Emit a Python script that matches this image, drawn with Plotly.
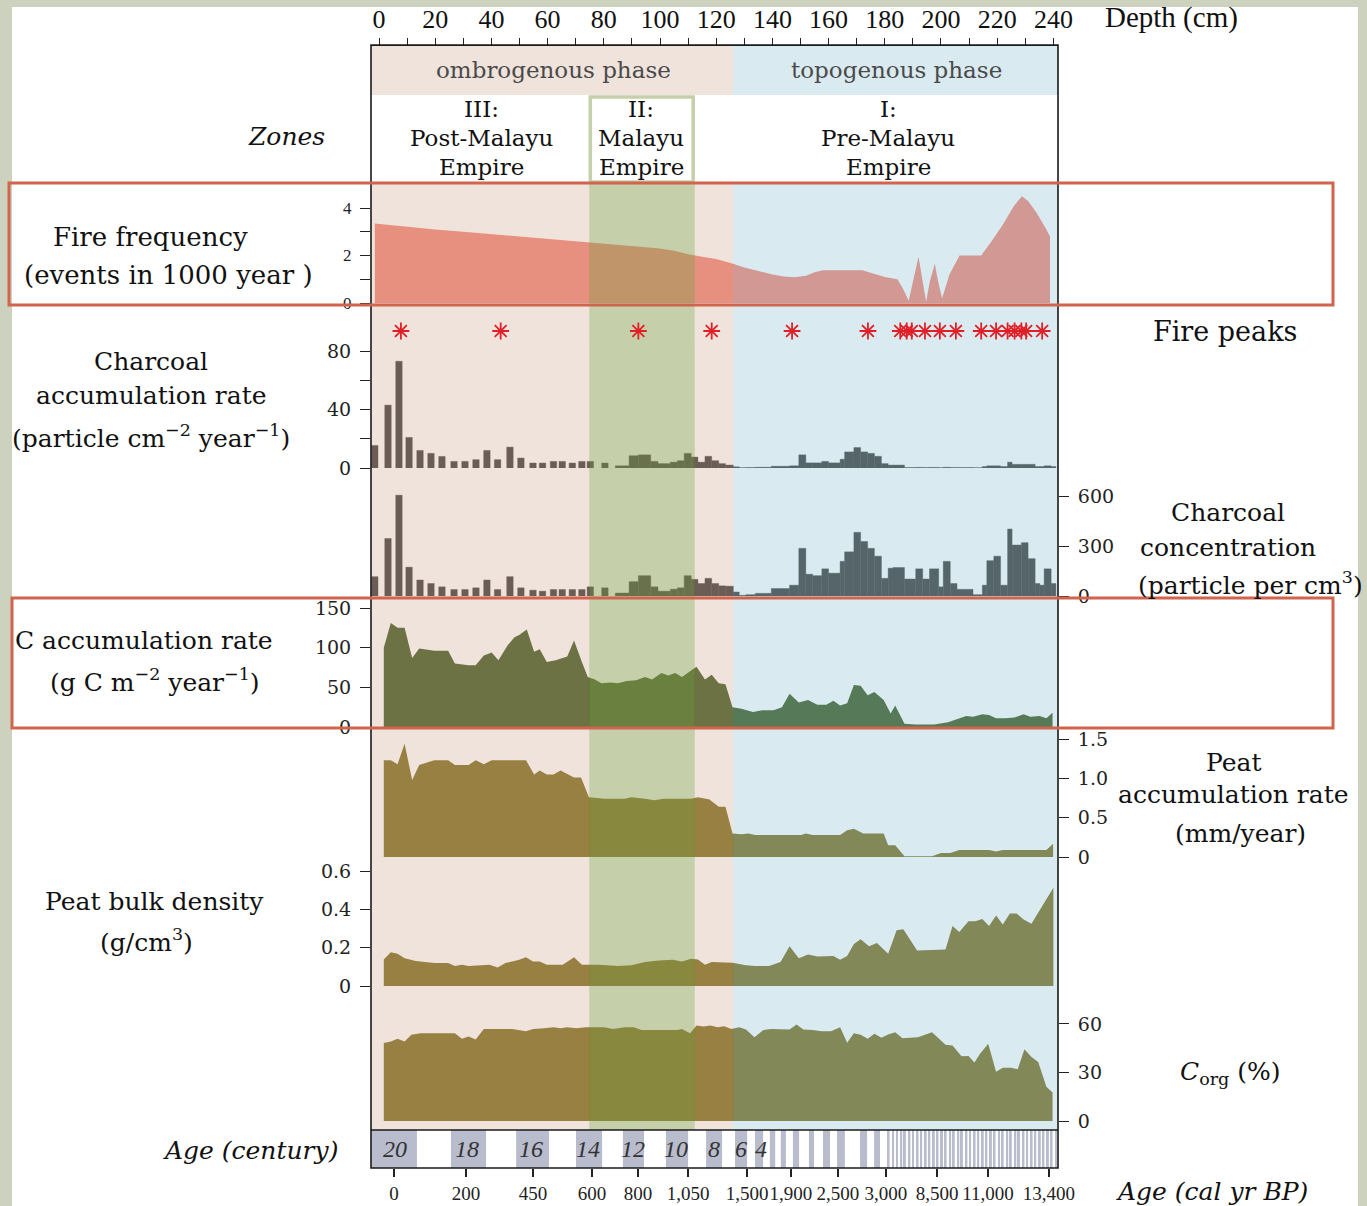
import plotly.graph_objects as go

# ---------------- data ----------------
fire_depth = [-1.5, 10, 20, 30, 40, 50, 60, 70, 75, 80, 90, 100, 105, 110, 115, 120, 126, 130, 135, 140,
              144, 148, 152, 155, 158, 165, 172, 175.5, 180, 184.5, 186.5, 188.5, 190, 192, 193.5, 194.7,
              196, 197.8, 199, 200.4, 203, 206.6, 210, 214.3, 218, 222, 226, 228.8, 231, 234, 237, 238.8]
fire_freq = [3.35, 3.2, 3.1, 3.0, 2.9, 2.8, 2.7, 2.6, 2.55, 2.5, 2.4, 2.3, 2.2, 2.05, 1.95, 1.85, 1.65, 1.5,
             1.35, 1.2, 1.12, 1.08, 1.15, 1.3, 1.38, 1.38, 1.38, 1.25, 1.1, 1.0, 0.6, 0.1, 0.9, 1.95, 0.9,
             0.05, 0.9, 1.65, 0.9, 0.2, 1.2, 2.0, 2.0, 2.0, 2.6, 3.3, 4.1, 4.5, 4.3, 3.8, 3.2, 2.8]

peak_depth = [7.8, 43.3, 92.3, 118.4, 147.0, 174.0, 185.5, 187.8, 189.6, 194.3, 199.6, 205.3,
              214.3, 219.6, 223.7, 226.2, 228.6, 230.3, 236.0]

# charcoal: separate samples in the upper part ...
char_disc_depth = [-1.5, 3.2, 7.1, 10.7, 14.6, 18.5, 22.4, 26.7, 30.6, 34.5, 38.4, 42.2, 46.6, 50.5,
                   54.8, 58.2, 62.1, 65.2, 68.8, 72.2, 75.2, 80.4]
char_disc_rate = [15.4, 43, 73, 20.9, 12, 10, 7.9, 4.5, 4.5, 5.7, 12, 5.7, 14.3, 6.8, 3.4, 3.4, 4.5, 4.5,
                  3.4, 4.5, 4.5, 3.4]
char_disc_conc = [116, 345, 605, 173, 96, 75, 55, 39, 39, 49, 96, 39, 116, 49, 35, 29, 39, 39, 39, 39, 55, 49]
# ... and contiguous slices below
char_step_edges = [84.1, 89.0, 92.3, 96.7, 99.3, 103.7, 106.2, 108.6, 111.1, 113.5, 116.0, 118.4, 120.9,
                   123.3, 126.1, 128.2, 130.6, 133.9, 136.4, 139.6, 146.1, 149.4, 151.9, 154.3, 157.6,
                   160.0, 164.1, 165.7, 169.0, 171.4, 173.9, 176.3, 178.8, 181.2, 182.9, 187.0, 191.0,
                   193.5, 195.9, 199.2, 200.8, 203.3, 205.7, 211.4, 214.7, 216.3, 218.8, 221.2, 223.7,
                   225.3, 228.6, 231.0, 233.5, 235.2, 236.7, 239.2, 240.9]
char_step_conc = [18, 86, 122, 55, 29, 41, 49, 122, 100, 75, 106, 75, 61, 59, 24, 4, 8, 16, 16, 45, 65,
                  286, 131, 122, 163, 137, 208, 265, 382, 327, 286, 239, 106, 167, 171, 102, 163, 102,
                  163, 55, 208, 75, 40, 8, 65, 212, 239, 65, 402, 306, 320, 224, 75, 65, 163, 75]
char_step_rate = [1.5, 8.4, 9, 4.5, 3, 4, 5, 10, 7.5, 4, 8, 5, 3, 2, 0.8, 0.2, 0.3, 0.5, 0.5, 1.2, 1.5,
                  9, 3.5, 3.5, 4.5, 3.5, 6, 11, 14, 11, 10, 8, 3, 2, 2, 0.3, 0.4, 0.3, 0.4, 0.2, 0.5,
                  0.3, 0.3, 0.2, 1.0, 1.5, 1.5, 1.0, 4, 2.5, 2.5, 2.5, 1, 1, 1.5, 1]

cacc_depth = [1.7, 4.2, 6.6, 9.1, 11.8, 14.3, 19.7, 24.6, 27.0, 31.9, 34.4, 37.3, 40.1, 42.5, 45.8, 48.2,
              49.9, 52.6, 55.2, 57.2, 59.7, 62.9, 67.0, 69.4, 72.2, 74.3, 76.8, 79.2, 82.5, 85.0, 88.2,
              91.5, 94.7, 97.2, 100.5, 102.9, 105.4, 107.8, 110.2, 113.0, 116.0, 118.4, 120.9, 123.3,
              125.8, 129.0, 133.1, 136.4, 140.4, 143.4, 146.1, 149.4, 152.7, 156.0, 159.2, 161.7, 164.1,
              166.6, 169.0, 171.4, 173.9, 176.3, 179.6, 182.1, 183.7, 187.0, 191.0, 197.6, 202.5, 205.7,
              209.0, 211.4, 214.7, 217.1, 219.6, 222.9, 226.1, 229.4, 231.8, 235.1, 237.5, 239.7]
cacc = [100, 131, 125, 125, 87, 99, 96, 96, 80, 78, 78, 90, 94, 84, 103, 113, 116, 123, 95, 98, 82, 84,
        89, 109, 82, 63, 60, 55, 56, 55, 58, 59, 63, 60, 68, 65, 68, 63, 69, 76, 60, 66, 55, 54, 25, 23,
        19, 21, 21, 25, 42, 31, 34, 28, 28, 33, 27, 30, 53, 52, 40, 44, 34, 17, 27, 4, 3, 3, 6, 10, 14,
        13, 16, 15, 11, 11, 12, 16, 13, 14, 11, 18]

peat_depth = [1.7, 4.2, 6.6, 9.1, 11.8, 14.3, 19.7, 24.6, 27.0, 31.9, 34.4, 37.3, 40.1, 52.3, 55.2, 57.2,
              59.7, 62.1, 64.6, 67.0, 69.4, 71.9, 74.7, 77.6, 80.1, 87.4, 89.8, 94.7, 98.0, 101.3, 111.1,
              113.5, 117.6, 120.9, 123.3, 125.8, 129.0, 131.5, 133.9, 150.2, 151.9, 154.3, 164.1, 166.6,
              169.0, 172.3, 179.6, 181.2, 183.7, 187.0, 196.8, 200.0, 203.3, 206.5, 217.1, 219.6, 222.0,
              237.5, 239.9]
peat_rate = [1.23, 1.23, 1.18, 1.44, 0.98, 1.17, 1.23, 1.23, 1.17, 1.17, 1.23, 1.18, 1.23, 1.23, 1.05,
             1.10, 1.05, 1.05, 1.10, 1.05, 1.01, 1.01, 0.76, 0.75, 0.74, 0.74, 0.76, 0.74, 0.72, 0.74,
             0.74, 0.76, 0.73, 0.64, 0.64, 0.30, 0.29, 0.30, 0.28, 0.28, 0.30, 0.28, 0.28, 0.34, 0.36,
             0.30, 0.30, 0.15, 0.15, 0.01, 0.01, 0.05, 0.05, 0.09, 0.09, 0.07, 0.09, 0.09, 0.17]

bd_depth = [1.7, 4.2, 6.6, 9.1, 13.1, 19.7, 24.6, 27.0, 29.5, 31.9, 39.3, 42.2, 45.0, 49.9, 52.3, 54.8,
            57.2, 59.7, 65.4, 69.4, 72.2, 78.4, 85.0, 89.8, 94.7, 99.6, 104.5, 107.8, 111.1, 113.5, 116.0,
            118.4, 125.8, 130.6, 133.9, 138.8, 142.9, 146.1, 149.4, 152.7, 156.0, 161.7, 164.1, 166.6,
            169.0, 171.4, 174.4, 177.2, 181.2, 184.2, 186.6, 191.5, 201.6, 204.1, 206.5, 209.8, 212.2,
            214.7, 217.1, 219.6, 222.0, 224.5, 226.9, 229.4, 232.2, 240.0]
bulk_density = [0.138, 0.176, 0.168, 0.145, 0.13, 0.12, 0.12, 0.104, 0.111, 0.104, 0.111, 0.096, 0.12,
                0.137, 0.150, 0.128, 0.128, 0.111, 0.111, 0.150, 0.111, 0.111, 0.104, 0.108, 0.125,
                0.133, 0.137, 0.128, 0.142, 0.138, 0.111, 0.125, 0.121, 0.108, 0.104, 0.104, 0.125,
                0.207, 0.145, 0.164, 0.154, 0.156, 0.137, 0.156, 0.219, 0.244, 0.207, 0.224, 0.168,
                0.291, 0.296, 0.185, 0.190, 0.313, 0.282, 0.338, 0.338, 0.350, 0.313, 0.368, 0.321,
                0.378, 0.378, 0.347, 0.325, 0.513]

corg_depth = [1.7, 4.2, 6.6, 9.1, 11.5, 14.8, 27.0, 29.5, 31.9, 34.4, 37.3, 47.4, 52.3, 54.8, 58.8, 62.1,
              64.6, 67.0, 70.3, 73.5, 80.1, 83.3, 87.4, 90.7, 93.4, 106.2, 107.8, 110.7, 113.0, 115.6,
              117.9, 120.5, 122.8, 125.4, 128.2, 130.6, 133.6, 136.8, 139.6, 146.1, 148.6, 151.0, 154.3,
              157.6, 160.8, 164.1, 166.6, 169.0, 171.4, 173.9, 176.3, 178.8, 181.2, 183.7, 186.3, 191.8,
              196.8, 201.6, 204.1, 207.3, 209.8, 211.9, 213.9, 216.8, 219.6, 222.0, 225.0, 227.3, 229.7,
              232.2, 234.6, 237.5, 239.7]
corg = [48.2, 49.2, 50.8, 49.2, 53.3, 54.3, 54.3, 50.8, 52.2, 50.4, 56.9, 56.9, 55.5, 56.9, 57.3, 58.0,
        57.3, 58.0, 57.3, 58.0, 58.0, 56.9, 58.0, 58.0, 56.3, 56.3, 56.9, 54.3, 59.0, 58.4, 59.0, 58.0,
        58.6, 56.9, 58.0, 56.5, 51.8, 56.3, 56.9, 56.5, 59.6, 56.5, 56.3, 55.5, 55.5, 58.0, 48.4, 54.3,
        53.3, 50.8, 53.9, 51.4, 53.5, 54.9, 51.2, 51.8, 54.9, 47.1, 46.7, 40.0, 40.2, 36.1, 41.6, 47.8,
        30.4, 32.9, 32.9, 32.0, 44.3, 39.6, 36.5, 21.2, 17.6]

# age (century) bar: grey blocks (depth from / to)
age_gray_start = [-2.85, 25.6, 48.8, 70.1, 86.8, 102.1, 116.4, 126.7, 133.8, 139.1, 143.0, 147.3, 153.0,
                  158.0, 163.0, 171.2, 176.2, 181.0, 182.6, 184.0, 185.5, 186.8, 188.4, 189.7, 191.3,
                  192.6, 194.2, 195.5, 197.1, 198.4, 200.0, 201.3, 202.9, 204.2, 205.8, 207.1, 208.7,
                  210.0, 211.6, 212.9, 214.5, 215.8, 217.4, 218.7, 220.3, 221.6, 223.2, 224.5, 226.1,
                  227.4, 229.0, 230.3, 231.9, 233.2, 234.8, 236.1, 237.7, 239.0, 240.6]
age_gray_end = [13.5, 38.1, 60.5, 79.4, 94.3, 110.0, 122.1, 131.0, 136.7, 141.0, 144.8, 149.5, 154.8,
                160.5, 165.8, 173.7, 178.3, 181.7, 183.3, 184.7, 186.2, 187.5, 189.1, 190.4, 192.0,
                193.3, 194.9, 196.2, 197.8, 199.1, 200.7, 202.0, 203.6, 204.9, 206.5, 207.8, 209.4,
                210.7, 212.3, 213.6, 215.2, 216.5, 218.1, 219.4, 221.0, 222.3, 223.9, 225.2, 226.8,
                228.1, 229.7, 231.0, 232.6, 233.9, 235.5, 236.8, 238.4, 239.7, 241.3]
century_label = ['20', '18', '16', '14', '12', '10', '8', '6', '4']
century_depth = [5.7, 31.3, 54.1, 74.4, 90.4, 105.7, 119.2, 128.8, 135.9]

age_tick_depth = [5.34, 30.96, 54.8, 75.8, 92.2, 110.0, 131.0, 146.6, 163.3, 180.4, 198.6, 216.7, 238.4]
age_tick_label = ['0', '200', '450', '600', '800', '1,050', '1,500', '1,900', '2,500', '3,000',
                  '8,500', '11,000', '13,400']

depth_tick = [0, 20, 40, 60, 80, 100, 120, 140, 160, 180, 200, 220, 240]

zone_bounds = [74.8, 112.4, 126.0]   # III|II, II|(III), ombrogenous|topogenous

# ---------------- geometry / style ----------------
W, H = 1367, 1206
PL, PR, PT, PB = 371, 1058, 45, 1168
XR = [-2.85, 241.64]


def pxx(x):
    return (x - PL) / (PR - PL)


def pyy(y):
    return (PB - y) / (PB - PT)


SERIF = 'DejaVu Serif'
TIMES = 'Liberation Serif'
TICKFONT = dict(family=SERIF, size=19, color='#222')

PINK_OPQ, GREEN_OPQ, BLUE_OPQ = 'rgb(239,227,220)', 'rgb(197,207,170)', 'rgb(217,235,240)'
PINK_OVL, GREEN_OVL, BLUE_OVL = 'rgba(215,185,167,0.4)', 'rgba(155,172,109,0.58)', 'rgba(160,205,217,0.4)'
FIRE = 'rgb(243,117,100)'
CHAR = 'rgb(35,33,30)'
CACC = 'rgb(37,67,0)'
PEAT = 'rgb(110,90,0)'
AGEGRAY = 'rgb(184,188,205)'

fig = go.Figure()

# fire frequency
fig.add_trace(go.Scatter(x=fire_depth, y=fire_freq, mode='lines', line=dict(width=0, color=FIRE),
                         fill='tozeroy', fillcolor=FIRE, xaxis='x', yaxis='y', hoverinfo='skip'))
# fire peaks
fig.add_trace(go.Scatter(x=peak_depth, y=[1] * len(peak_depth), mode='markers',
                         marker=dict(symbol='asterisk-open', size=14, color='#e21f26',
                                     line=dict(color='#e21f26', width=1.8)),
                         xaxis='x', yaxis='y2', hoverinfo='skip'))

step_center = [(a + b) / 2 for a, b in zip(char_step_edges[:-1], char_step_edges[1:])]
step_width = [b - a for a, b in zip(char_step_edges[:-1], char_step_edges[1:])]
bar_x = char_disc_depth + step_center
bar_w = [2.3] * len(char_disc_depth) + step_width

fig.add_trace(go.Bar(x=bar_x, y=char_disc_rate + char_step_rate, width=bar_w,
                     marker=dict(color=CHAR, line=dict(width=0.4, color=CHAR)),
                     xaxis='x', yaxis='y3', hoverinfo='skip'))
fig.add_trace(go.Bar(x=bar_x, y=char_disc_conc + char_step_conc, width=bar_w,
                     marker=dict(color=CHAR, line=dict(width=0.4, color=CHAR)),
                     xaxis='x', yaxis='y4', hoverinfo='skip'))


def area(xs, ys, color, yax):
    fig.add_trace(go.Scatter(x=xs, y=ys, mode='lines', line=dict(width=0, color=color),
                             fill='tozeroy', fillcolor=color, xaxis='x', yaxis=yax, hoverinfo='skip'))


area(cacc_depth, cacc, CACC, 'y5')
area(peat_depth, peat_rate, PEAT, 'y6')
area(bd_depth, bulk_density, PEAT, 'y7')
area(corg_depth, corg, PEAT, 'y8')

# age (century) bar, on the bottom (age) axis
fig.add_trace(go.Bar(x=[(a + b) / 2 for a, b in zip(age_gray_start, age_gray_end)],
                     y=[1] * len(age_gray_start),
                     width=[b - a for a, b in zip(age_gray_start, age_gray_end)],
                     marker=dict(color=AGEGRAY, line=dict(width=0)),
                     xaxis='x2', yaxis='y9', hoverinfo='skip'))


def yax(top, bottom, rng, side='left', tickvals=None, font=None, labels=None, minor=None):
    d = dict(domain=[pyy(bottom), pyy(top)], range=rng, anchor='x', side=side, showgrid=False,
             zeroline=False, showline=False, fixedrange=True, automargin=False)
    if tickvals is None:
        d.update(visible=False)
    else:
        d.update(tickmode='array', tickvals=tickvals, ticktext=labels, ticks='outside', ticklen=10,
                 tickwidth=1.3, tickcolor='#222', tickfont=font or TICKFONT, ticklabelstandoff=5)
        if minor is not None:
            d['minor'] = dict(dtick=minor, tick0=0, ticks='outside', ticklen=10, tickwidth=1.3,
                              tickcolor='#222', showgrid=False)
    return d


layout_axes = dict(
    xaxis=dict(domain=[0, 1], range=XR, anchor='free', position=1, side='top', tickmode='array',
               tickvals=depth_tick, ticktext=[str(v) for v in depth_tick], ticks='outside', ticklen=7,
               tickwidth=1.3, tickcolor='#222', tickfont=dict(family=TIMES, size=26, color='#111'),
               minor=dict(dtick=10, tick0=0, ticks='outside', ticklen=7, tickwidth=1.3, tickcolor='#222',
                          showgrid=False),
               showline=True, linecolor='#222', linewidth=1.2, showgrid=False, zeroline=False,
               fixedrange=True, automargin=False, tickangle=0),
    xaxis2=dict(overlaying='x', anchor='free', position=0, side='bottom', range=XR, tickmode='array',
                tickvals=age_tick_depth, ticktext=age_tick_label, ticks='outside', ticklen=8,
                tickwidth=1.5, tickcolor='#222', tickfont=dict(family=TIMES, size=19, color='#222'),
                ticklabelstandoff=0,
                showgrid=False, zeroline=False, showline=False, fixedrange=True, automargin=False,
                tickangle=0),
    yaxis=yax(185, 303, [0, 4.97], 'left', [0, 2, 4], dict(family=TIMES, size=17, color='#222'),
              ['0', '2', '4'], 1),
    yaxis2=yax(316, 346, [0, 2]),
    yaxis3=yax(348, 468, [0, 82.05], 'left', [0, 40, 80], None, ['0', '40', '80'], 20),
    yaxis4=yax(480, 596, [0, 696], 'right', [0, 300, 600], None, ['0', '300', '600']),
    yaxis5=yax(600, 727, [0, 160.1], 'left', [0, 50, 100, 150], None, ['0', '50', '100', '150']),
    yaxis6=yax(735, 857, [0, 1.551], 'right', [0, 0.5, 1, 1.5], None, ['0', '0.5', '1.0', '1.5']),
    yaxis7=yax(862, 986, [0, 0.647], 'left', [0, 0.2, 0.4, 0.6], None, ['0', '0.2', '0.4', '0.6']),
    yaxis8=yax(995, 1121, [0, 77.9], 'right', [0, 30, 60], None, ['0', '30', '60']),
    yaxis9=yax(1130, 1168, [0, 1]),
)

shapes = []
# white page inside the grey-green frame
shapes.append(dict(type='rect', xref='paper', yref='paper', x0=pxx(12), x1=pxx(1358), y0=pyy(1206),
                   y1=pyy(7), fillcolor='white', line=dict(width=0), layer='below'))
# phase header
shapes.append(dict(type='rect', xref='x', yref='paper', x0=XR[0], x1=zone_bounds[2], y0=pyy(95),
                   y1=pyy(45), fillcolor=PINK_OPQ, line=dict(width=0), layer='below'))
shapes.append(dict(type='rect', xref='x', yref='paper', x0=zone_bounds[2], x1=XR[1], y0=pyy(95),
                   y1=pyy(45), fillcolor=BLUE_OPQ, line=dict(width=0), layer='below'))

band_x = [(XR[0], zone_bounds[0]), (zone_bounds[0], zone_bounds[1]),
          (zone_bounds[1], zone_bounds[2]), (zone_bounds[2], XR[1])]
opq = [PINK_OPQ, GREEN_OPQ, PINK_OPQ, BLUE_OPQ]
ovl = [PINK_OVL, GREEN_OVL, PINK_OVL, BLUE_OVL]
for (a, b), c in zip(band_x, opq):          # fire-peak row: opaque, behind the asterisks
    shapes.append(dict(type='rect', xref='x', yref='paper', x0=a, x1=b, y0=pyy(346), y1=pyy(307),
                       fillcolor=c, line=dict(width=0), layer='below'))
for (a, b), c in zip(band_x, ovl):          # translucent zone bands over the curves
    for top, bot in [(183, 307), (346, 1130)]:
        shapes.append(dict(type='rect', xref='x', yref='paper', x0=a, x1=b, y0=pyy(bot), y1=pyy(top),
                           fillcolor=c, line=dict(width=0), layer='above'))
# zone II outline in the zone row
shapes.append(dict(type='rect', xref='x', yref='paper', x0=zone_bounds[0] + 0.4, x1=zone_bounds[1] - 0.6,
                   y0=pyy(182), y1=pyy(97), line=dict(color=GREEN_OPQ, width=3.5), layer='above'))
# frame
shapes.append(dict(type='rect', xref='paper', yref='paper', x0=0, x1=1, y0=0, y1=1,
                   line=dict(color='#1a1a1a', width=1.6), layer='above'))
shapes.append(dict(type='line', xref='paper', yref='paper', x0=0, x1=1, y0=pyy(1130), y1=pyy(1130),
                   line=dict(color='#1a1a1a', width=1.6), layer='above'))
# highlight boxes
for (x0, y0, x1, y1) in [(9, 183, 1333, 305), (12, 598, 1333, 728)]:
    shapes.append(dict(type='rect', xref='paper', yref='paper', x0=pxx(x0), x1=pxx(x1), y0=pyy(y1),
                       y1=pyy(y0), line=dict(color='#d0644c', width=3), layer='above'))

fig.update_layout(width=W, height=H, autosize=False, margin=dict(l=PL, r=W - PR, t=PT, b=H - PB),
                  paper_bgcolor='rgb(205,210,191)', plot_bgcolor='white', showlegend=False,
                  barmode='overlay', shapes=shapes, **layout_axes)


def note(text, x, y, size=25, family=SERIF, color='#111', xanchor='center'):
    fig.add_annotation(text=text, x=pxx(x), y=pyy(y), xref='paper', yref='paper', showarrow=False,
                       xanchor=xanchor, yanchor='middle',
                       font=dict(family=family, size=size, color=color))


# header texts
note('Depth (cm)', 1171, 18, 29, TIMES)
note('ombrogenous phase', 553, 70, 23, SERIF, '#4a4a4a')
note('topogenous phase', 896, 70, 23, SERIF, '#4a4a4a')
for lines, xc in [(['III:', 'Post-Malayu', 'Empire'], 481), (['II:', 'Malayu', 'Empire'], 641),
                  (['I:', 'Pre-Malayu', 'Empire'], 888)]:
    for t, yy in zip(lines, [109, 138, 167]):
        note(t, xc, yy, 23)
note('<i>Zones</i>', 286, 136, 25)

# left labels
note('Fire frequency', 150, 237, 26)
note('(events in 1000 year )', 168, 275, 26)
note('Charcoal', 151, 361, 25)
note('accumulation rate', 151, 395, 25)
note('(particle cm<sup>−2</sup> year<sup>−1</sup>)', 151, 436, 25)
note('C accumulation rate', 13, 640, 25, xanchor='left')
note('(g C m<sup>−2</sup> year<sup>−1</sup>)', 155, 680, 25)
note('Peat bulk density', 154, 901, 25)
note('(g/cm<sup>3</sup>)', 146, 940, 25)
note('<i>Age (century)</i>', 250, 1150, 25)

# right labels
note('Fire peaks', 1225, 331, 27)
note('Charcoal', 1228, 512, 25)
note('concentration', 1228, 547, 25)
note('(particle per cm<sup>3</sup>)', 1250, 583, 25)
note('Peat', 1233, 762, 25)
note('accumulation rate', 1233, 795, 25)
note('(mm/year)', 1240, 833, 25)
note('<i>C</i><sub>org</sub> (%)', 1230, 1073, 25)
note('<i>Age (cal yr BP)</i>', 1212, 1191, 25)

# century numbers in the age bar
for t, d in zip(century_label, century_depth):
    fig.add_annotation(text='<i>' + t + '</i>', x=d, y=0.5, xref='x2', yref='y9', showarrow=False,
                       font=dict(family=TIMES, size=24, color='#333'))

fig.write_html('out.html', config={'displayModeBar': False},
               post_script="document.body.style.margin='0px';")
